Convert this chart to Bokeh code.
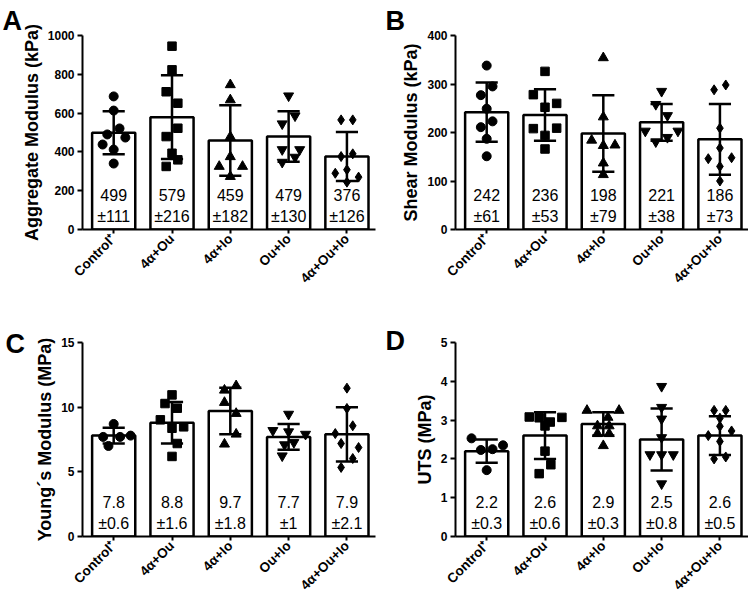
from bokeh.plotting import figure
from bokeh.layouts import gridplot
from bokeh.models import FixedTicker
from bokeh.core.properties import value
from bokeh.embed import file_html
from bokeh.resources import INLINE
import math

groups = ["Control⁺", "4α+Ou", "4α+Io", "Ou+Io", "4α+Ou+Io"]
group_pos = [1, 2, 3, 4, 5]
markers = ["circle", "square", "triangle", "inverted_triangle", "diamond"]

# Panel A: Aggregate modulus (kPa)
agg_mean = [499, 579, 459, 479, 376]
agg_sd = [111, 216, 182, 130, 126]
agg_points = [
    [686, 613, 521, 490, 474, 438, 412, 340],
    [945, 823, 710, 651, 522, 479, 393, 359, 325],
    [746, 668, 478, 375, 325, 325, 273],
    [689, 586, 545, 412, 412, 373, 347],
    [565, 565, 376, 390, 290, 308, 270, 244],
]
agg_jitter = [
    [0, 0, 0.1, -0.11, 0.2, -0.19, 0, 0],
    [0, 0, -0.1, 0.1, 0.1, -0.1, 0, 0.1, -0.1],
    [0, 0, 0, 0, -0.19, 0.21, 0],
    [0, 0.11, -0.11, -0.11, 0.19, 0.11, -0.11],
    [-0.1, 0.1, -0.1, 0.1, -0.2, 0, 0.2, 0],
]
agg_ticks = [0, 200, 400, 600, 800, 1000]

# Panel B: Shear modulus (kPa)
shear_mean = [242, 236, 198, 221, 186]
shear_sd = [61, 53, 79, 38, 73]
shear_points = [
    [338, 295, 277, 249, 211, 223, 187, 151],
    [326, 278, 252, 260, 208, 209, 194, 166],
    [354, 232, 184, 173, 174, 137, 113],
    [285, 258, 235, 203, 203, 190, 181],
    [288, 298, 209, 168, 146, 148, 130, 100],
]
shear_jitter = [
    [0, 0.1, -0.1, 0, -0.1, 0.1, 0, 0],
    [0, -0.2, 0, 0.2, -0.2, 0.2, 0, 0],
    [0, 0, -0.2, 0, 0.2, 0, 0],
    [0, -0.1, 0.1, -0.28, 0.28, 0.1, -0.1],
    [-0.1, 0.1, 0, 0, -0.2, 0.2, 0, 0],
]
shear_ticks = [0, 100, 200, 300, 400]

# Panel C: Young's modulus (MPa)
young_mean = [7.8, 8.8, 9.7, 7.7, 7.9]
young_sd = [0.6, 1.6, 1.8, 1, 2.1]
young_points = [
    [8.7, 7.7, 7.8, 7.0, 7.7],
    [10.95, 10.28, 9.92, 9.02, 8.37, 8.48, 7.19, 6.19],
    [11.65, 11.31, 10.36, 9.51, 7.91, 7.14],
    [9.46, 8.2, 8.1, 7.91, 7.27, 7.1, 6.24],
    [11.47, 9.9, 8.56, 7.96, 7.19, 6.88, 6.03, 5.34],
]
young_jitter = [
    [0, -0.18, 0.29, -0.09, 0.11],
    [0, -0.12, 0.09, -0.2, 0, 0.2, 0.09, 0],
    [0.1, -0.1, -0.1, 0.1, 0.1, -0.1],
    [0, -0.27, 0, 0.29, 0.09, -0.07, -0.11],
    [0, 0, 0.1, -0.2, -0.1, 0.2, 0.1, -0.1],
]
young_ticks = [0, 5, 10, 15]

# Panel D: UTS (MPa)
uts_mean = [2.2, 2.6, 2.9, 2.5, 2.6]
uts_sd = [0.3, 0.6, 0.3, 0.8, 0.5]
uts_points = [
    [2.53, 2.25, 2.35, 2.23, 1.71],
    [3.08, 3.06, 3.07, 2.95, 2.85, 2.2, 1.85, 1.62],
    [3.25, 3.25, 3.07, 2.85, 2.85, 2.65, 2.65, 2.34],
    [3.87, 3.33, 3.03, 2.55, 2.11, 2.11, 2.11, 1.36],
    [3.25, 3.25, 3.05, 2.84, 2.6, 2.72, 2.45, 2.0, 2.05],
]
uts_jitter = [
    [-0.26, 0.1, 0.28, -0.1, 0],
    [-0.27, -0.1, 0.29, 0.09, 0, 0, 0.1, -0.1],
    [-0.28, 0.27, 0.08, -0.1, 0.1, -0.1, 0.1, 0],
    [0, 0, 0, 0, -0.2, 0, 0.2, 0],
    [-0.1, 0.1, 0, 0, -0.2, 0.2, 0, -0.1, 0.1],
]
uts_ticks = [0, 1, 2, 3, 4, 5]

FONT = "Liberation Sans"
marker_sizes = {"circle": 9, "square": 8.5, "triangle": 10,
                "inverted_triangle": 10, "diamond": 10}


def fmt(v):
    return f"{v:g}"


def make_panel(letter, ylabel, means, sds, points, jitter, ticks,
               left, right, top, bottom, letter_offset, letter_standoff):
    p = figure(frame_width=293, frame_height=194, output_backend="svg",
               toolbar_location=None, x_range=(0.465, 5.49),
               y_range=(ticks[0], ticks[-1]),
               min_border_left=left, min_border_right=right,
               min_border_top=top, min_border_bottom=bottom,
               title=letter)
    p.outline_line_color = None
    p.xgrid.visible = False
    p.ygrid.visible = False

    p.title.text_font = FONT
    p.title.text_font_style = "bold"
    p.title.text_font_size = "27px"
    p.title.text_color = "black"
    p.title.align = "left"
    p.title.offset = letter_offset
    p.title.standoff = letter_standoff

    # bars
    p.vbar(x=group_pos, top=means, bottom=0, width=0.74,
           fill_color="white", line_color="black", line_width=2.5)

    # error bars
    lo = [m - s for m, s in zip(means, sds)]
    hi = [m + s for m, s in zip(means, sds)]
    p.segment(x0=group_pos, y0=lo, x1=group_pos, y1=hi,
              line_color="black", line_width=2.5)
    cap = 0.19
    p.segment(x0=[x - cap for x in group_pos], y0=hi,
              x1=[x + cap for x in group_pos], y1=hi,
              line_color="black", line_width=2.5)
    p.segment(x0=[x - cap for x in group_pos], y0=lo,
              x1=[x + cap for x in group_pos], y1=lo,
              line_color="black", line_width=2.5)

    # individual points
    for gx, vals, jit, mk in zip(group_pos, points, jitter, markers):
        xs = [gx + j for j in jit]
        p.scatter(x=xs, y=vals, marker=mk, size=marker_sizes[mk],
                  fill_color="black", line_color="black")

    # mean / sd text inside bars
    p.text(x=group_pos, y=[0] * 5, text=[fmt(m) for m in means],
           text_font=value(FONT), text_font_size="16px",
           text_align="center", text_baseline="middle",
           y_offset=-35, text_color="black")
    p.text(x=group_pos, y=[0] * 5, text=["±" + fmt(s) for s in sds],
           text_font=value(FONT), text_font_size="16px",
           text_align="center", text_baseline="middle",
           y_offset=-13, text_color="black")

    # axes
    for ax in (p.xaxis[0], p.yaxis[0]):
        ax.axis_line_width = 2
        ax.axis_line_color = "black"
        ax.major_tick_line_width = 2
        ax.major_tick_line_color = "black"
        ax.major_tick_in = 0
        ax.minor_tick_line_color = None
        ax.major_label_text_font = FONT
        ax.major_label_text_font_style = "bold"
        ax.major_label_text_color = "black"

    p.yaxis.major_label_text_font_size = "12px"
    p.xaxis.major_label_text_font_size = "13.5px"
    p.xaxis.ticker = FixedTicker(ticks=group_pos, minor_ticks=[])
    p.xaxis.major_label_overrides = {gx: g for gx, g in zip(group_pos, groups)}
    p.xaxis.major_label_orientation = math.pi / 4
    p.xaxis.major_tick_out = 4
    p.xaxis.major_label_standoff = 3

    p.yaxis.ticker = FixedTicker(ticks=ticks, minor_ticks=[])
    p.yaxis.major_tick_out = 5
    p.yaxis.major_label_standoff = 3
    p.yaxis.axis_label = ylabel
    p.yaxis.axis_label_text_font = FONT
    p.yaxis.axis_label_text_font_style = "bold"
    p.yaxis.axis_label_text_font_size = "18px"
    p.yaxis.axis_label_text_color = "black"
    p.yaxis.axis_label_standoff = 3
    return p


pA = make_panel("A", "Aggregate Modulus (kPa)", agg_mean, agg_sd, agg_points,
                agg_jitter, agg_ticks, 82, 2, 35, 71, -80, 0)
pB = make_panel("B", "Shear Modulus (kPa)", shear_mean, shear_sd, shear_points,
                shear_jitter, shear_ticks, 78, 0, 35, 71, -70, 0)
pC = make_panel("C", "Young´s Modulus (MPa)", young_mean, young_sd, young_points,
                young_jitter, young_ticks, 82, 2, 42, 56, -77, -33)
pD = make_panel("D", "UTS (MPa)", uts_mean, uts_sd, uts_points,
                uts_jitter, uts_ticks, 78, 0, 42, 56, -70, -27)

grid = gridplot([[pA, pB], [pC, pD]], toolbar_location=None)

open("out.html", "w").write(file_html(grid, INLINE))
